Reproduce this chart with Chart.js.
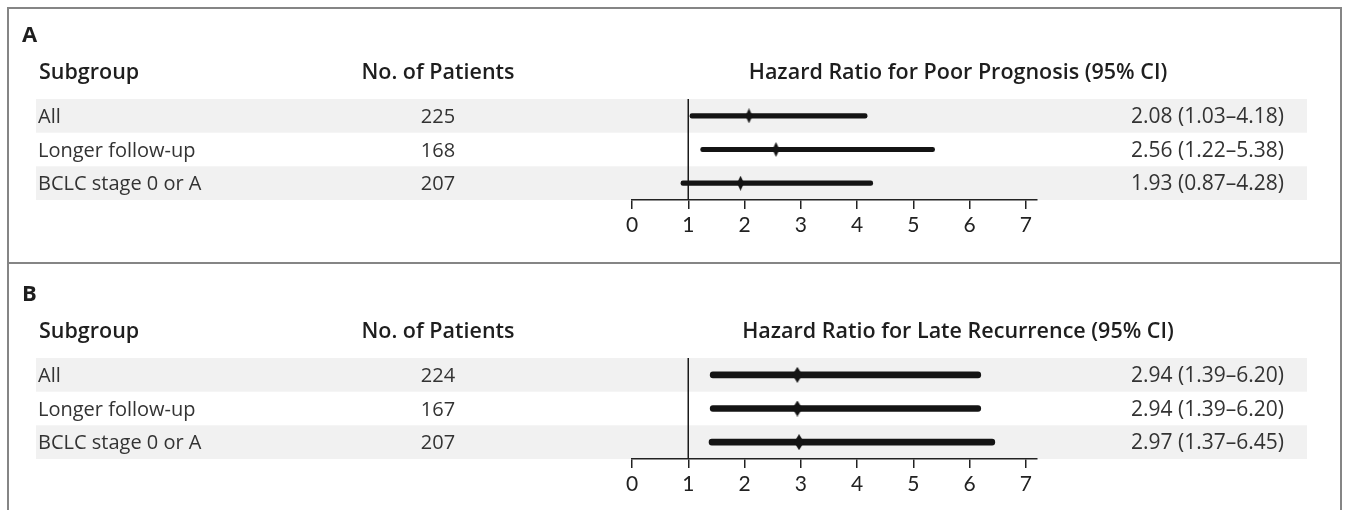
<!DOCTYPE html>
<html>
<head>
<meta charset="utf-8">
<script src="https://cdn.jsdelivr.net/npm/chart.js@4.4.1/dist/chart.umd.min.js"></script>
<style>
  html, body { margin: 0; padding: 0; background: #fff; overflow: hidden; }
  body { width: 1349px; height: 510px; position: relative; }
  canvas { position: absolute; left: 0; }
  .line { position: absolute; background: #858585; z-index: 5; }
</style>
</head>
<body>
<div class="line" style="left:7px;top:7px;width:1335px;height:2px"></div>
<div class="line" style="left:7px;top:7px;width:2px;height:510px"></div>
<div class="line" style="left:1340px;top:7px;width:2px;height:510px"></div>
<div class="line" style="left:7px;top:262px;width:1335px;height:2px"></div>
<canvas id="panelA" width="1349" height="259" style="top:0"></canvas>
<canvas id="panelB" width="1349" height="259" style="top:259px"></canvas>
<script>
const groups = ["All", "Longer follow-up", "BCLC stage 0 or A"];

// panel A: poor prognosis
const patientsA = [225, 168, 207];
const hrA = [2.08, 2.56, 1.93];
const lowA = [1.03, 1.22, 0.87];
const highA = [4.18, 5.38, 4.28];

// panel B: late recurrence
const patientsB = [224, 167, 207];
const hrB = [2.94, 2.94, 2.97];
const lowB = [1.39, 1.39, 1.37];
const highB = [6.20, 6.20, 6.45];

const FONT = "'Open Sans'";
Chart.defaults.font.family = "Lato";

function diamond(w, h) {
  const c = document.createElement("canvas");
  c.width = w;
  c.height = h;
  const g = c.getContext("2d");
  g.fillStyle = "#141414";
  g.beginPath();
  g.moveTo(w / 2, 0);
  g.lineTo(w, h / 2);
  g.lineTo(w / 2, h);
  g.lineTo(0, h / 2);
  g.closePath();
  g.fill();
  return c;
}

const tablePlugin = {
  id: "table",
  beforeDraw(chart, args, o) {
    const ctx = chart.ctx;
    const y = chart.scales.y;
    const step = (chart.chartArea.bottom - chart.chartArea.top) / groups.length;
    ctx.save();
    ctx.fillStyle = "#f1f1f1";
    groups.forEach((g, i) => {
      if (i % 2 === 0) {
        const cy = y.getPixelForValue(i);
        ctx.fillRect(36, cy - step / 2, 1271, step);
      }
    });
    ctx.restore();
  },
  beforeDatasetsDraw(chart) {
    const ctx = chart.ctx;
    const x = chart.scales.x.getPixelForValue(1);
    ctx.save();
    ctx.strokeStyle = "#1a1a1a";
    ctx.lineWidth = 1.5;
    ctx.beginPath();
    ctx.moveTo(x, chart.chartArea.top);
    ctx.lineTo(x, chart.chartArea.bottom);
    ctx.stroke();
    ctx.restore();
  },
  afterDraw(chart, args, o) {
    const ctx = chart.ctx;
    const y = chart.scales.y;
    ctx.save();
    ctx.fillStyle = "#1e1e1e";
    ctx.textBaseline = "alphabetic";
    ctx.font = "bold 22px " + FONT;
    ctx.textAlign = "left";
    ctx.fillText(o.letter, 22, 42);

    ctx.font = "600 21.5px " + FONT;
    ctx.fillText("Subgroup", 39, 79);
    ctx.textAlign = "center";
    ctx.fillText("No. of Patients", 438, 79);
    ctx.fillText(o.title, 958, 79);

    ctx.fillStyle = "#333";
    groups.forEach((g, i) => {
      const cy = y.getPixelForValue(i) + 7;
      ctx.font = "20px " + FONT;
      ctx.textAlign = "left";
      ctx.fillText(g, 38, cy);
      ctx.textAlign = "center";
      ctx.fillText(String(o.patients[i]), 438, cy);
      ctx.font = "21px " + FONT;
      ctx.textAlign = "right";
      const txt = o.hr[i].toFixed(2) + " (" + o.low[i].toFixed(2) + "\u2013" + o.high[i].toFixed(2) + ")";
      ctx.fillText(txt, 1284, cy);
    });
    ctx.restore();
  }
};

function makePanel(id, letter, title, patients, hr, low, high, thick, marker) {
  new Chart(document.getElementById(id), {
    type: "bar",
    data: {
      labels: groups,
      datasets: [
        {
          type: "line",
          data: hr.map((v, i) => ({ x: v, y: groups[i] })),
          showLine: false,
          pointStyle: marker,
          pointRadius: 5,
          order: 0
        },
        {
          data: low.map((v, i) => [v, high[i]]),
          backgroundColor: "#141414",
          barThickness: thick,
          borderRadius: thick / 2,
          borderSkipped: false,
          order: 1
        }
      ]
    },
    options: {
      indexAxis: "y",
      responsive: false,
      animation: false,
      devicePixelRatio: 1,
      layout: { padding: { left: 632, right: 312, top: 99, bottom: 0 } },
      plugins: {
        legend: { display: false },
        tooltip: { enabled: false },
        table: { letter: letter, title: title, patients: patients, hr: hr, low: low, high: high }
      },
      scales: {
        x: {
          type: "linear",
          min: 0,
          max: 7.2,
          ticks: { stepSize: 1, includeBounds: false, color: "#222", font: { size: 21 }, padding: 4 },
          grid: { drawOnChartArea: false, drawTicks: true, tickLength: 9, color: "#222", lineWidth: 1.5 },
          border: { color: "#222", width: 1.5 },
          afterFit(s) { s.height = 59; }
        },
        y: { type: "category", labels: groups, display: false, offset: true }
      }
    },
    plugins: [tablePlugin]
  });
}

makePanel("panelA", "A", "Hazard Ratio for Poor Prognosis (95% CI)",
  patientsA, hrA, lowA, highA, 4.5, diamond(7, 15));
makePanel("panelB", "B", "Hazard Ratio for Late Recurrence (95% CI)",
  patientsB, hrB, lowB, highB, 6, diamond(10, 16));
</script>
</body>
</html>
